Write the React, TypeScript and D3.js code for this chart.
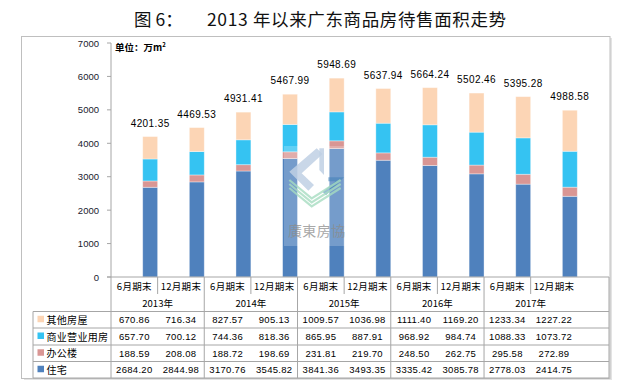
import React from 'react';
import * as d3 from 'd3';

const years = ['2013年', '2014年', '2015年', '2016年', '2017年'];
const periods = ['6月期末', '12月期末'];
const categories = years.flatMap((y) => periods.map((p) => `${y}-${p}`));

const seriesNames = ['住宅', '办公楼', '商业营业用房', '其他房屋'];
const seriesColors = ['#4F81BD', '#D99694', '#35C3F2', '#FCD5B5'];

const zhuzhai = [2684.2, 2844.98, 3170.76, 3545.82, 3841.36, 3493.35, 3335.42, 3085.78, 2778.03, 2414.75];
const bangong = [188.59, 208.08, 188.72, 198.69, 231.81, 219.7, 248.5, 262.75, 295.58, 272.89];
const shangye = [657.7, 700.12, 744.36, 818.36, 865.95, 887.91, 968.92, 984.74, 1088.33, 1073.72];
const qita = [670.86, 716.34, 827.57, 905.13, 1009.57, 1036.98, 1111.4, 1169.2, 1233.34, 1227.22];
const totals = [4201.35, 4469.53, 4931.41, 5467.99, 5948.69, 5637.94, 5664.24, 5502.46, 5395.28, 4988.58];

const yTicks = [0, 1000, 2000, 3000, 4000, 5000, 6000, 7000];

const FONT = "'Liberation Sans', 'Noto Sans CJK SC', sans-serif";
const CJK = "'Noto Sans CJK SC', 'Liberation Sans', sans-serif";
const LINE = '#A6A6A6';

const App: React.FC = () => {
  const width = 630;
  const height = 385;
  const plotLeft = 111;
  const plotRight = 609;
  const plotTop = 43;
  const plotBottom = 277;

  const x = d3.scaleBand<string>().domain(categories).range([plotLeft, plotRight]).padding(0.68);
  const y = d3.scaleLinear().domain([0, 7000]).range([plotBottom, plotTop]);
  const step = x.step();

  const seriesData = [zhuzhai, bangong, shangye, qita];
  const table = categories.map((c, i) => {
    const row: Record<string, number | string> = { cat: c };
    seriesNames.forEach((n, k) => (row[n] = seriesData[k][i]));
    return row;
  });
  const stacked = d3.stack<Record<string, number | string>>().keys(seriesNames)(table);

  // table rows (top to bottom: reverse of stacking order)
  const rowTops = [311.5, 328, 345, 361.5, 378];
  const tableOrder = [3, 2, 1, 0];
  const tableLeft = 33;

  const fmt = d3.format('.2f');

  // watermark helper: zoom coords -> page coords
  const wm = (pts: number[][]) => pts.map(([a, b]) => `${270 + a / 3},${130 + b / 3}`).join(' ');

  return (
    <svg width={width} height={height} style={{ position: 'absolute', left: 0, top: 0, background: '#fff' }}>
      {/* title */}
      <text x={134} y={26} fontFamily={CJK} fontSize={17.5} fill="#111">图 6：</text>
      <text x={207} y={26} fontFamily={CJK} fontSize={17.5} fill="#111" textLength={299} lengthAdjust="spacing">
        2013 年以来广东商品房待售面积走势
      </text>

      {/* chart frame with shadow */}
      <rect x={24} y={38} width={588} height={342} fill="#E3E3E3" />
      <rect x={21.5} y={36.5} width={588.5} height={342} fill="#fff" stroke="#BFBFBF" strokeWidth={1} />

      {/* unit */}
      <text x={115} y={51} fontFamily={CJK} fontSize={9.5} fontWeight="bold" fill="#000">
        单位：万m<tspan fontSize={6} dy={-4}>2</tspan>
      </text>

      {/* y axis */}
      <line x1={plotLeft} x2={plotLeft} y1={plotTop} y2={rowTops[4]} stroke={LINE} />
      {yTicks.map((t) => (
        <g key={t}>
          <line x1={plotLeft - 4} x2={plotLeft} y1={y(t)} y2={y(t)} stroke={LINE} />
          <text x={99} y={y(t) + 3.5} textAnchor="end" fontFamily={FONT} fontSize={9.5} fill="#1a1a2e">
            {t}
          </text>
        </g>
      ))}

      {/* bars */}
      {stacked.map((s, k) => (
        <g key={s.key} fill={seriesColors[k]}>
          {s.map((d, i) => (
            <rect
              key={i}
              x={x(categories[i])!}
              y={y(d[1])}
              width={x.bandwidth()}
              height={y(d[0]) - y(d[1])}
              stroke="#fff"
              strokeOpacity={0.45}
              strokeWidth={0.8}
            />
          ))}
        </g>
      ))}

      {/* total labels */}
      {totals.map((t, i) => (
        <text
          key={i}
          x={x(categories[i])! + x.bandwidth() / 2}
          y={y(t) - 10}
          textAnchor="middle"
          fontFamily={FONT}
          fontSize={10}
          letterSpacing={0.4}
          fill="#000"
        >
          {fmt(t)}
        </text>
      ))}

      {/* watermark */}
      <g>
        <rect x={284} y={146} width={62} height={100} fill="#fff" opacity={0.22} />
        <polygon points={wm([[140, 55], [158, 72], [95, 130], [132, 165], [115, 182], [58, 125]])} fill="#BFD0E4" opacity={0.85} />
        <polygon points={wm([[148, 55], [162, 55], [162, 135], [148, 120]])} fill="#BFD0E4" opacity={0.85} />
        <polygon points={wm([[175, 142], [222, 142], [168, 196], [158, 186], [196, 154], [175, 154]])} fill="#3F7FB8" opacity={0.55} />
        {[0, 12, 24].map((o) => (
          <polyline
            key={o}
            points={wm([[58, 150 + o], [125, 205 + o], [212, 150 + o]])}
            fill="none"
            stroke="#A6DCC0"
            strokeWidth={2.2}
            opacity={0.8}
          />
        ))}
        <text x={288} y={236} fontFamily={CJK} fontSize={14} fill="#8C8C8C" opacity={0.75} textLength={57} lengthAdjust="spacing">
          廣東房協
        </text>
      </g>

      {/* category axis */}
      <line x1={plotLeft - 4} x2={plotRight} y1={plotBottom} y2={plotBottom} stroke={LINE} />
      {categories.map((c, i) => {
        const left = plotLeft + i * step;
        return (
          <g key={c}>
            {i > 0 && (
              <line
                x1={left}
                x2={left}
                y1={plotBottom}
                y2={i % 2 === 0 ? rowTops[4] : 294}
                stroke={LINE}
              />
            )}
            <text
              x={left + step / 2}
              y={289.5}
              textAnchor="middle"
              fontFamily={CJK}
              fontSize={9.5}
              letterSpacing={0.3}
              fill="#000"
            >
              {periods[i % 2]}
            </text>
          </g>
        );
      })}
      <line x1={plotRight} x2={plotRight} y1={plotBottom} y2={rowTops[4]} stroke={LINE} />
      {years.map((yr, j) => (
        <text
          key={yr}
          x={plotLeft + step * (2 * j + 1)}
          y={306.5}
          textAnchor="middle"
          fontFamily={CJK}
          fontSize={9.5}
          fill="#000"
        >
          {yr}
        </text>
      ))}

      {/* data table */}
      {rowTops.map((r, i) => (
        <line key={i} x1={tableLeft} x2={plotRight} y1={r} y2={r} stroke={LINE} />
      ))}
      <line x1={tableLeft} x2={tableLeft} y1={rowTops[0]} y2={rowTops[4]} stroke={LINE} />
      {tableOrder.map((k, r) => {
        const top = rowTops[r];
        const mid = (top + rowTops[r + 1]) / 2;
        return (
          <g key={k}>
            <rect x={37.5} y={mid - 4} width={6.5} height={6.5} fill={seriesColors[k]} />
            <text x={46.5} y={mid + 4} fontFamily={CJK} fontSize={10} letterSpacing={0.3} fill="#000">
              {seriesNames[k]}
            </text>
            {seriesData[k].map((v, i) => (
              <text
                key={i}
                x={plotLeft + step * (i + 0.5)}
                y={mid + 3.5}
                textAnchor="middle"
                fontFamily={FONT}
                fontSize={9.5}
                letterSpacing={0.3}
                fill="#000"
              >
                {fmt(v)}
              </text>
            ))}
          </g>
        );
      })}
    </svg>
  );
};

export default App;
